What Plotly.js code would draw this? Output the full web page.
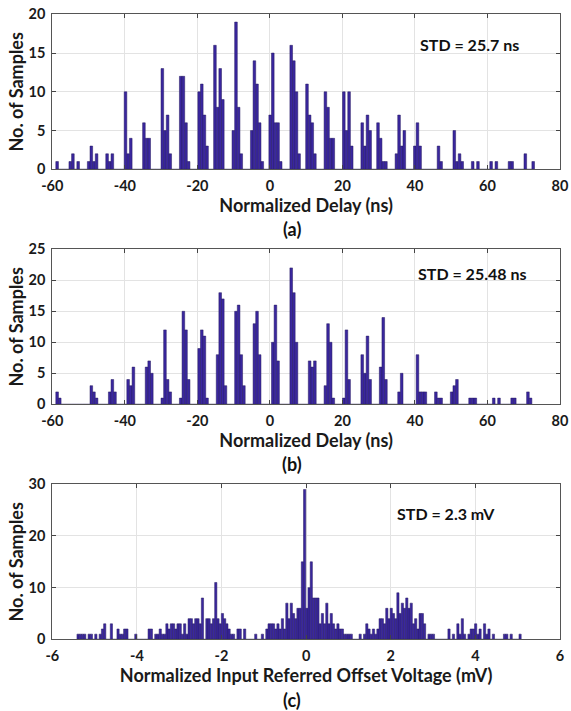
<!DOCTYPE html>
<html>
<head>
<meta charset="utf-8">
<script src="https://cdn.plot.ly/plotly-3.0.1.min.js"></script>
<style>html,body{margin:0;padding:0;background:#fff;}#chart{width:571px;height:711px;}</style>
</head>
<body>
<div id="chart"></div>
<script>
// ---- Data (histogram counts per bin) ----
// Panel (a): normalized delay histogram
const aBinStart = -58.67;   // centre of first bin (ns)
const aBinWidth = 0.7253;   // bin width (ns)
const aCounts = [
  1,0,0,0,0,1,2,0,1,0,
  0,0,1,3,1,2,0,0,0,2,
  1,2,0,0,0,0,10,2,4,0,
  0,0,0,6,4,4,0,0,0,0,
  13,5,7,2,0,0,0,12,12,6,
  1,0,0,0,10,11,7,3,0,0,
  16,8,13,9,0,0,0,5,19,8,
  2,0,0,0,5,14,11,6,1,0,
  0,7,15,6,6,1,0,0,0,16,
  14,10,2,0,0,11,7,6,2,0,
  0,0,10,8,4,4,0,0,0,10,
  5,10,3,0,0,0,6,3,7,5,
  0,0,6,4,1,1,0,0,0,2,
  7,3,5,0,0,0,3,6,3,0,
  0,0,0,0,0,3,1,0,0,0,
  0,5,1,2,1,0,0,0,1,0,
  1,0,0,0,0,1,0,1,0,0,
  0,0,1,1,0,0,0,0,2,0,
  0,1
];
// Panel (b): normalized delay histogram
const bBinStart = -58.67;
const bBinWidth = 0.7253;
const bCounts = [
  2,1,0,0,0,0,0,0,0,0,
  0,0,0,3,2,1,0,0,0,0,
  2,4,2,0,0,0,0,4,3,6,
  0,0,0,0,6,7,5,0,0,0,
  1,12,4,2,0,0,0,1,15,12,
  4,0,0,0,9,12,11,1,0,0,
  0,8,18,17,3,0,0,0,15,16,
  8,3,0,0,0,13,15,8,0,0,
  0,0,10,16,7,0,0,0,0,22,
  18,10,0,0,0,0,7,6,7,0,
  0,0,3,13,10,1,0,0,0,1,
  12,4,0,0,0,0,8,5,11,4,
  0,0,0,6,14,4,0,0,0,0,
  2,5,0,0,0,0,0,8,2,2,
  2,0,0,0,2,1,1,0,0,0,
  2,3,4,0,0,0,0,1,1,1,
  0,0,0,0,0,0,1,0,1,0,
  0,0,0,1,1,0,0,0,0,2,
  1
];
// Panel (c): normalized input referred offset voltage histogram
const cBinStart = -5.391;   // centre of first bin (mV)
const cBinWidth = 0.0525;   // bin width (mV)
const cCounts = [
  1,1,1,1,0,1,1,0,1,0,
  1,2,3,0,0,3,0,0,2,1,
  1,2,2,0,0,0,1,0,0,0,
  0,0,2,2,0,1,1,2,1,1,
  3,2,3,3,2,3,3,1,3,1,
  4,4,3,4,4,3,8,0,4,4,
  3,4,11,4,3,5,4,3,2,1,
  1,0,2,2,0,2,0,0,0,0,
  1,0,0,1,0,2,3,3,3,2,
  3,2,4,2,7,4,7,5,4,6,
  6,15,29,6,10,15,8,8,8,3,
  5,3,7,3,5,3,2,3,2,2,
  1,1,1,1,0,0,0,1,0,1,
  3,2,1,2,1,2,4,4,3,6,
  4,6,5,4,9,5,7,6,8,6,
  7,3,4,2,5,5,3,0,1,1,
  1,0,0,0,0,0,0,2,0,1,
  0,3,1,4,1,0,1,2,2,3,
  1,2,0,3,1,2,0,1,0,0,
  0,0,1,1,0,1,0,0,0,1
];
// Tick values and labels (plain hyphen minus, as in the reference)
const delayTickVals = [-60, -40, -20, 0, 20, 40, 60, 80];
const delayTickText = ['-60', '-40', '-20', '0', '20', '40', '60', '80'];
const voltTickVals = [-6, -4, -2, 0, 2, 4, 6];
const voltTickText = ['-6', '-4', '-2', '0', '2', '4', '6'];
const aYTicks = [0, 5, 10, 15, 20];
const bYTicks = [0, 5, 10, 15, 20, 25];
const cYTicks = [0, 10, 20, 30];
const xTitles = ['Normalized Delay (ns)', 'Normalized Delay (ns)', 'Normalized Input Referred Offset Voltage (mV)'];
const yTitle = 'No. of Samples';
const stdLabels = ['STD = 25.7 ns', 'STD = 25.48 ns', 'STD = 2.3 mV'];
const panelLabels = ['(a)', '(b)', '(c)'];

// ---- Styling ----
const FONT = 'Lato, "Open Sans", Arial, sans-serif';
const barFill = '#3a279f';
const barEdge = '#24195e';
const W = 571, H = 711;

function bar(y, x0, dx, xa, ya) {
  return {
    type: 'bar', y: y, x0: x0, dx: dx, width: dx,
    xaxis: xa, yaxis: ya,
    marker: {color: barFill, line: {color: barEdge, width: 0.5}},
    hoverinfo: 'skip', showlegend: false
  };
}

const data = [
  bar(aCounts, aBinStart, aBinWidth, 'x', 'y'),
  bar(bCounts, bBinStart, bBinWidth, 'x2', 'y2'),
  bar(cCounts, cBinStart, cBinWidth, 'x3', 'y3')
];

const xDom = [52.3 / W, 560 / W];
function yDom(topPx, botPx) { return [1 - botPx / H, 1 - topPx / H]; }

const common = {
  ticks: 'inside', ticklen: 4, tickcolor: '#444', mirror: 'ticks',
  showline: true, linecolor: '#555', linewidth: 1,
  showgrid: true, gridcolor: '#e3e3e3', gridwidth: 1, zeroline: false,
  tickfont: {family: FONT, size: 14.5, color: '#1a1a1a', weight: 'bold'},
  fixedrange: true
};

function xAxis(range, vals, text, anchor, title) {
  return Object.assign({}, common, {
    domain: xDom, anchor: anchor, range: range,
    tickmode: 'array', tickvals: vals, ticktext: text,
    ticklabelstandoff: 3,
    title: {text: title, standoff: 0, font: {family: FONT, size: 18, color: '#1a1a1a', weight: 'bold'}}
  });
}
function yAxis(dom, range, vals, anchor) {
  return Object.assign({}, common, {
    domain: dom, anchor: anchor, range: range,
    tickmode: 'array', tickvals: vals, ticktext: vals.map(String),
    ticklabelstandoff: 3,
    title: {text: yTitle, standoff: 0, font: {family: FONT, size: 18, color: '#1a1a1a', weight: 'bold'}}
  });
}

function ann(text, xPx, yPx, size) {
  return {
    text: text, xref: 'paper', yref: 'paper', x: xPx / W, y: 1 - yPx / H,
    xanchor: 'center', yanchor: 'middle', showarrow: false,
    font: {family: FONT, size: size, color: '#111', weight: 'bold'}
  };
}

const layout = {
  width: W, height: H,
  margin: {l: 0, r: 0, t: 0, b: 0},
  paper_bgcolor: '#fff', plot_bgcolor: '#fff',
  bargap: 0, barmode: 'overlay',
  xaxis: xAxis([-60, 80], delayTickVals, delayTickText, 'y', xTitles[0]),
  yaxis: yAxis(yDom(14.3, 169.3), [0, 20], aYTicks, 'x'),
  xaxis2: xAxis([-60, 80], delayTickVals, delayTickText, 'y2', xTitles[1]),
  yaxis2: yAxis(yDom(249.3, 404.3), [0, 25], bYTicks, 'x2'),
  xaxis3: xAxis([-6, 6], voltTickVals, voltTickText, 'y3', xTitles[2]),
  yaxis3: yAxis(yDom(484.3, 639.3), [0, 30], cYTicks, 'x3'),
  annotations: [
    ann(stdLabels[0], 469, 44, 16),
    ann(stdLabels[1], 472, 273, 16),
    ann(stdLabels[2], 446, 513, 16),
    ann(panelLabels[0], 292, 229, 18),
    ann(panelLabels[1], 292, 464, 18),
    ann(panelLabels[2], 292, 700, 18)
  ]
};

Plotly.newPlot('chart', data, layout, {staticPlot: true, displayModeBar: false});
</script>
</body>
</html>
